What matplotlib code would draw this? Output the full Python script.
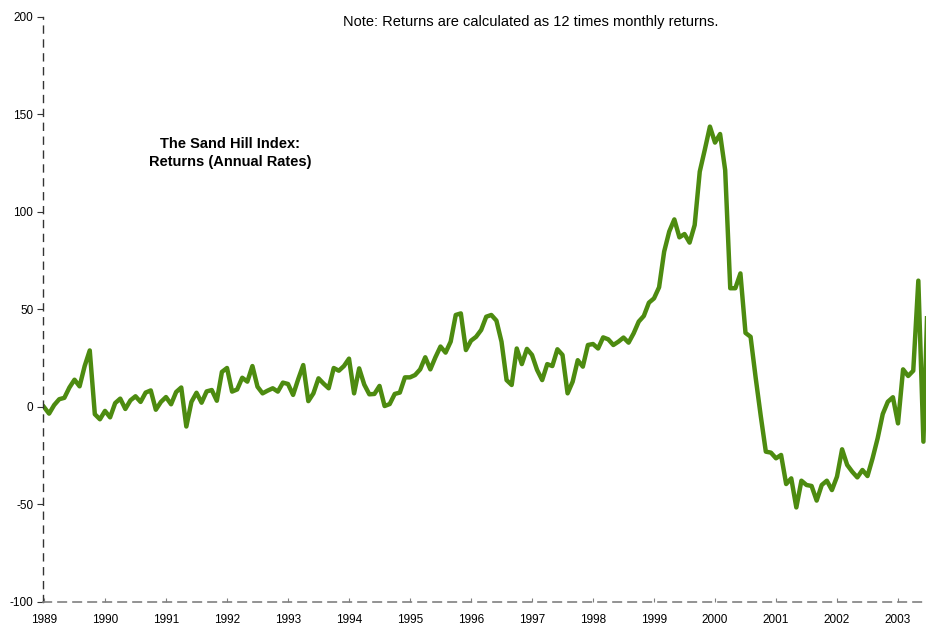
import numpy as np
import matplotlib
matplotlib.use("Agg")
import matplotlib.pyplot as plt

plt.rcParams['font.family'] = ['Liberation Sans', 'DejaVu Sans']
plt.rcParams['axes.unicode_minus'] = False

# monthly returns (annual rates), starting Jan 1989
start_year = 1989
returns = [
    0, -3.4, 1, 4, 4.7, 10, 14, 10.6, 21, 29,
    -3.7, -6.3, -2, -5.3, 2, 4.3, -1, 3.4, 5.5, 2.6,
    7.4, 8.5, -1.4, 2.6, 5.1, 1.4, 7.7, 10, -10, 2.6,
    7.3, 2.2, 8, 8.7, 3.2, 18, 20, 7.9, 9, 15,
    13, 21, 10.4, 7, 8.4, 9.6, 7.9, 12.5, 11.8, 6.2,
    14.2, 21.5, 3, 7, 14.7, 12, 9.6, 20, 18.6, 21,
    24.8, 7, 19.8, 11.5, 6.5, 6.7, 10.8, 0.5, 1.5, 6.7,
    7.4, 15.2, 15.2, 16.4, 19.3, 25.5, 19.3, 25.5, 31, 27.9,
    33.5, 47.2, 48, 29.2, 34, 36, 39.5, 46.3, 47.2, 44.3,
    33.5, 13.8, 11.3, 30, 22, 29.8, 26.7, 19, 13.8, 22,
    21, 29.6, 26.7, 7, 13, 24, 20.7, 31.8, 32.3, 30,
    35.7, 34.7, 31.8, 33.5, 35.6, 33, 37.8, 43.8, 46.7, 53.5,
    55.7, 61.4, 79.7, 90, 96.2, 87, 88.7, 84.3, 93.3, 120.7,
    132, 143.8, 135.6, 140, 121.5, 60.9, 60.9, 68.5, 38, 36,
    15, -4.6, -22.9, -23.4, -26.3, -24.6, -39.5, -36.6, -51.5, -37.8,
    -40, -40.5, -48, -40, -37.8, -42.6, -35.7, -21.7, -29.7, -33.2,
    -36.1, -32.3, -35.4, -26.3, -16, -3.6, 2.7, 5, -8.4, 19.3,
    15.9, 18.6, 64.8, -17.8, 72,
]
years = list(range(1989, 2004))
y_ticks = [-100, -50, 0, 50, 100, 150, 200]

title = "The Sand Hill Index:\nReturns (Annual Rates)"
note = "Note: Returns are calculated as 12 times monthly returns."

t = start_year + np.arange(len(returns)) / 12.0

fig = plt.figure(figsize=(9.26, 6.25), dpi=100)
ax = fig.add_axes([43 / 926, 23 / 625, 1 - 43 / 926, 585 / 625])

ax.plot(t, returns, color='#4d8b10', lw=3.2, solid_joinstyle='round', clip_on=True)

ax.set_xlim(1989 - 1 / 61, 1989 + 882 / 61)
ax.set_ylim(-100, 200)
ax.set_xticks(years)
ax.set_xticklabels([str(y) for y in years])
ax.set_yticks(y_ticks)

for s in ['top', 'right']:
    ax.spines[s].set_visible(False)
ax.spines['left'].set_linestyle((0, (5, 5)))
ax.spines['left'].set_color('#333333')
ax.spines['left'].set_linewidth(1.0)
ax.spines['bottom'].set_linestyle((0, (5, 4)))
ax.spines['bottom'].set_color('#808080')
ax.spines['bottom'].set_linewidth(1.2)

ax.tick_params(axis='y', direction='out', length=4, width=0.8, color='#333333',
               labelsize=8.5, pad=3)
ax.tick_params(axis='x', direction='in', length=3, width=0.8, color='#808080',
               labelsize=8.5, pad=8.5)

fig.text(230 / 926, 1 - 153 / 625, title, ha='center', va='center',
         fontsize=10.5, fontweight='bold', linespacing=1.45)
fig.text(531 / 926, 1 - 22 / 625, note, ha='center', va='center', fontsize=10.5)

fig.savefig('out.png', dpi=100)
